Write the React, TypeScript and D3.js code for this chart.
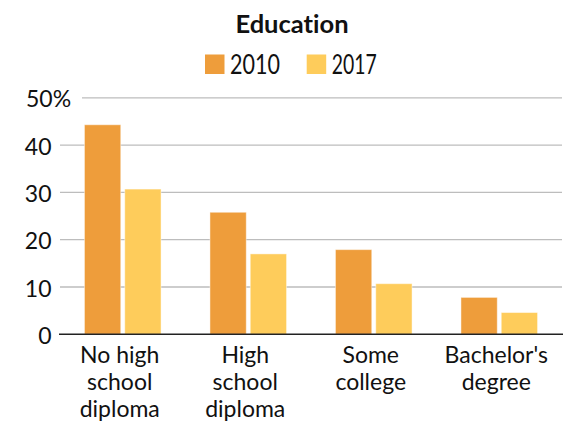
import React from "react";
import * as d3 from "d3";

const categories = [["No high", "school", "diploma"], ["High", "school", "diploma"], ["Some", "college"], ["Bachelor's", "degree"]];
const series = ["2010", "2017"];
const values2010 = [44.3, 25.8, 17.9, 7.8];
const values2017 = [30.7, 17.0, 10.7, 4.6];
const yTicks = [0, 10, 20, 30, 40, 50];
const colors = ["#EE9D3B", "#FECC5B"];

const W = 563, H = 421;

export default function App() {
  const y = d3.scaleLinear().domain([0, 50]).range([334.3, 97.8]);
  const x = d3.scaleBand<number>().domain(d3.range(categories.length)).range([60, 562]).padding(0);
  const step = x.step();
  const barW = 36.3, gap = 4;
  const font = "Lato, 'Open Sans', sans-serif";
  const allVals = [values2010, values2017];
  const lig = { fontVariantLigatures: "none" } as React.CSSProperties;

  return (
    <div style={{ position: "absolute", left: 0, top: 0 }}>
      <svg width={W} height={H} style={{ display: "block", ...lig }}>
        <rect width={W} height={H} fill="#fff" />
        <text x={292} y={33.3} textAnchor="middle" fontFamily={font} fontWeight={700} fontSize={25.5} fill="#111" style={lig}>Education</text>
        {series.map((s, i) => {
          const lx = [205, 306.7][i];
          return (
            <g key={s}>
              <rect x={lx} y={54.5} width={19.5} height={19.5} fill={colors[i]} />
              <text x={lx + 25} y={74} fontFamily={font} fontWeight={400} fontSize={27} fill="#111" textLength={[50, 45][i]} lengthAdjust="spacingAndGlyphs">{s}</text>
            </g>
          );
        })}
        {yTicks.filter(t => t > 0).map(t => (
          <line key={t} x1={t === 50 ? 82 : 60} x2={562} y1={y(t)} y2={y(t)} stroke="#bdbdbd" strokeWidth={1.3} />
        ))}
        {yTicks.map(t => (
          <text key={t} x={t === 50 ? 26 : 51.5} y={y(t) + 9.5} textAnchor={t === 50 ? "start" : "end"} fontFamily={font} fontWeight={400} fontSize={23} fill="#111">{t === 50 ? "50%" : t}</text>
        ))}
        {categories.map((c, ci) => {
          const cx = (x(ci) as number) + step / 2;
          return (
            <g key={ci}>
              {allVals.map((vals, si) => {
                const bx = cx - barW - gap / 2 + si * (barW + gap);
                return (
                  <rect key={si} x={bx} y={y(vals[ci])} width={barW} height={y(0) - y(vals[ci])} fill={colors[si]} stroke="#fff" strokeOpacity={0.45} strokeWidth={1} />
                );
              })}
              <text textAnchor="middle" fontFamily={font} fontWeight={400} fontSize={23} fill="#111">
                {c.map((line, li) => (
                  <tspan key={li} x={cx - 3} y={362.7 + li * 27}>{line}</tspan>
                ))}
              </text>
            </g>
          );
        })}
        <line x1={59} x2={563} y1={y(0)} y2={y(0)} stroke="#222" strokeWidth={1.6} />
      </svg>
    </div>
  );
}
